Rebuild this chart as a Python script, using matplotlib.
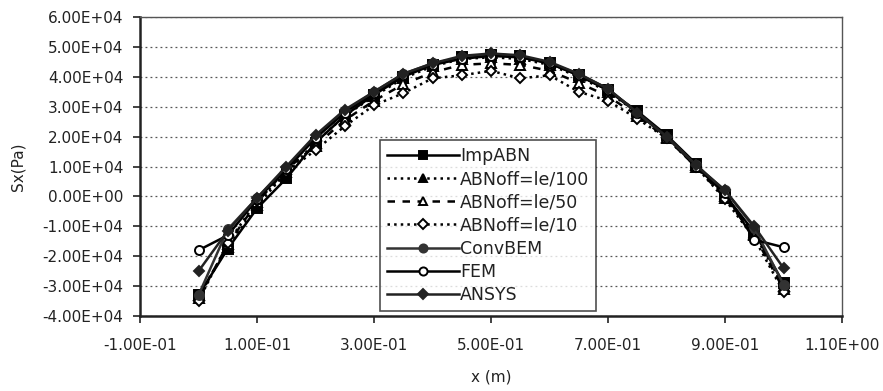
import matplotlib.pyplot as plt
from matplotlib.ticker import FuncFormatter

plt.rcParams['font.family'] = ['DejaVu Sans']

# x positions along the beam (m)
x = [0.0, 0.05, 0.1, 0.15, 0.2, 0.25, 0.3, 0.35, 0.4, 0.45, 0.5,
     0.55, 0.6, 0.65, 0.7, 0.75, 0.8, 0.85, 0.9, 0.95, 1.0]

# Sx values in units of 1e4 Pa
imp_abn = [-3.3, -1.75, -0.4, 0.6, 1.8, 2.7, 3.4, 4.0, 4.4, 4.65, 4.72,
           4.68, 4.45, 4.05, 3.55, 2.85, 2.05, 1.1, 0.05, -1.2, -2.9]
abn_100 = [-3.3, -1.7, -0.3, 0.8, 1.8, 2.7, 3.35, 3.95, 4.35, 4.6, 4.65,
           4.6, 4.4, 4.0, 3.5, 2.8, 2.0, 1.05, 0.0, -1.25, -3.0]
abn_50 = [-3.4, -1.6, -0.2, 0.9, 1.7, 2.55, 3.2, 3.75, 4.15, 4.4, 4.45,
          4.4, 4.2, 3.8, 3.35, 2.7, 1.95, 1.0, -0.05, -1.3, -3.1]
abn_10 = [-3.5, -1.55, -0.15, 0.8, 1.55, 2.35, 3.05, 3.45, 3.95, 4.05, 4.2,
          3.95, 4.05, 3.5, 3.2, 2.6, 1.95, 1.0, -0.1, -1.4, -3.2]
conv_bem = [-3.3, -1.1, -0.05, 0.95, 2.0, 2.85, 3.5, 4.1, 4.45, 4.65, 4.75,
            4.7, 4.45, 4.1, 3.6, 2.8, 2.0, 1.05, 0.2, -1.05, -2.95]
fem = [-1.8, -1.3, -0.1, 0.9, 1.95, 2.8, 3.45, 4.05, 4.4, 4.6, 4.7,
       4.65, 4.45, 4.05, 3.55, 2.8, 2.0, 1.0, 0.1, -1.45, -1.7]
ansys = [-2.5, -1.15, -0.05, 1.0, 2.05, 2.9, 3.5, 4.1, 4.45, 4.7, 4.78,
         4.72, 4.5, 4.1, 3.6, 2.8, 2.0, 1.05, 0.2, -1.0, -2.4]

x_ticks = [-0.1, 0.1, 0.3, 0.5, 0.7, 0.9, 1.1]
y_ticks = [-4e4, -3e4, -2e4, -1e4, 0, 1e4, 2e4, 3e4, 4e4, 5e4, 6e4]

series = [
    ('ImpABN', imp_abn, '-', 's', 'black', 'black'),
    ('ABNoff=le/100', abn_100, ':', '^', 'black', 'black'),
    ('ABNoff=le/50', abn_50, (0, (3, 3)), '^', 'black', 'white'),
    ('ABNoff=le/10', abn_10, ':', 'D', 'black', 'white'),
    ('ConvBEM', conv_bem, '-', 'o', '#333333', '#333333'),
    ('FEM', fem, '-', 'o', 'black', 'white'),
    ('ANSYS', ansys, '-', 'D', '#222222', '#222222'),
]

fig = plt.figure(figsize=(8.83, 3.91), dpi=100)
ax = fig.add_axes([0.1586, 0.1918, 0.795, 0.7647])

for name, vals, ls, mk, col, face in series:
    ax.plot(x, [v * 1e4 for v in vals], linestyle=ls, color=col, lw=1.8,
            marker=mk, markersize=6.5 if mk != 'D' else 5.5,
            markerfacecolor=face, markeredgecolor=col, markeredgewidth=1.4,
            label=name)

ax.set_xlim(-0.1, 1.1)
ax.set_ylim(-4e4, 6e4)
ax.set_xticks(x_ticks)
ax.set_yticks(y_ticks)
ax.xaxis.set_major_formatter(FuncFormatter(lambda v, p: f'{v:.2E}'))
ax.yaxis.set_major_formatter(FuncFormatter(lambda v, p: f'{v:.2E}'))
ax.tick_params(labelsize=11, direction='out', length=5, width=1.2, colors='#222222')
ax.tick_params(axis='y', pad=7)
ax.tick_params(axis='x', pad=11)
ax.yaxis.grid(True, linestyle=(0, (1.5, 2.5)), color='#555555', lw=0.9)

for s in ['left', 'bottom']:
    ax.spines[s].set_linewidth(1.8)
    ax.spines[s].set_color('#222222')
for s in ['top', 'right']:
    ax.spines[s].set_linewidth(1.0)
    ax.spines[s].set_color('#555555')

ax.set_xlabel('x (m)', fontsize=11, color='#222222', labelpad=12)
ax.set_ylabel('Sx(Pa)', fontsize=11, color='#222222', labelpad=12)

leg = ax.legend(loc='upper left', bbox_to_anchor=(0.342, 0.589), fontsize=12.5,
                frameon=True, fancybox=False, edgecolor='#222222',
                handlelength=4.15, handletextpad=0.05, borderpad=0.4,
                labelspacing=0.3, borderaxespad=0, markerscale=0.9)
leg.get_frame().set_linewidth(1.2)
for t in leg.get_texts():
    t.set_color('#222222')

fig.savefig('out.png', dpi=100)
